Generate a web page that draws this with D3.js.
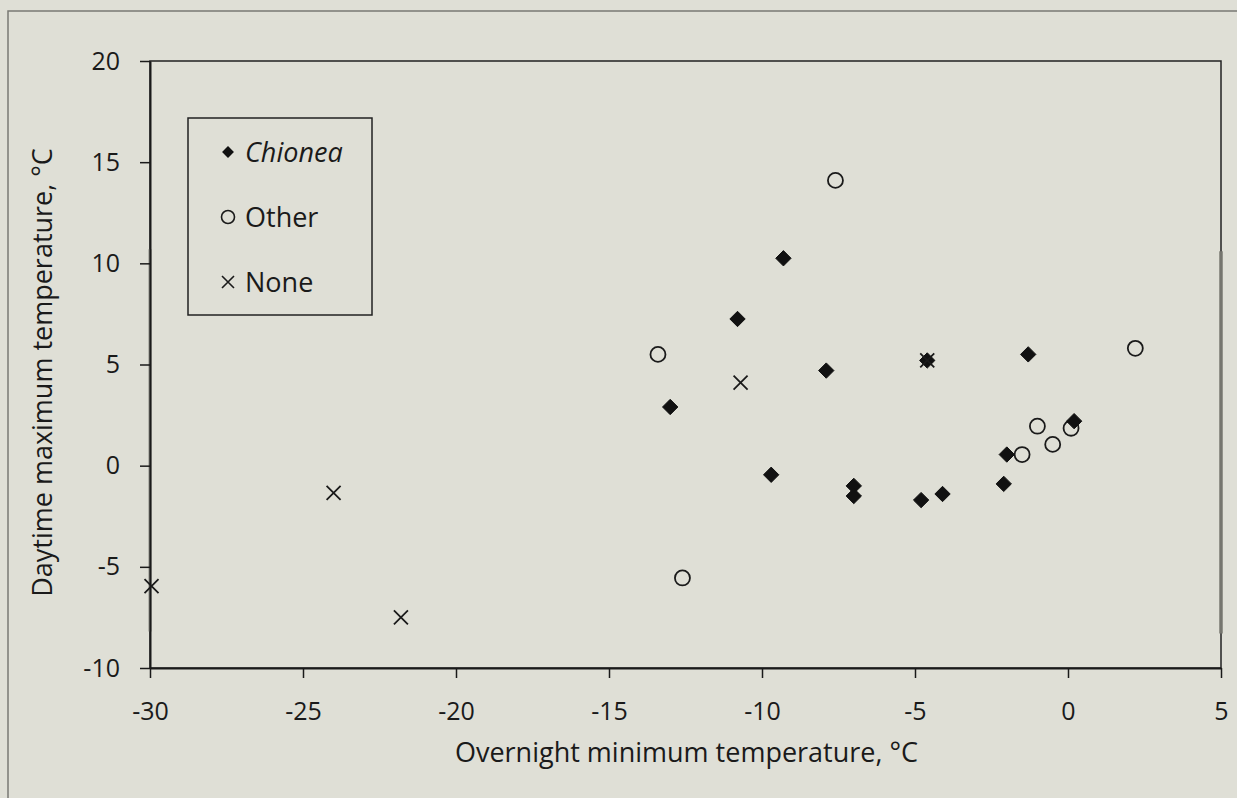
<!DOCTYPE html>
<html lang="en">
<head>
<meta charset="UTF-8" />
<title>Overnight minimum vs daytime maximum temperature</title>
<script src="https://d3js.org/d3.v7.min.js"></script>
<style>
  body { margin: 0; background: #dfdfd6; }
  svg { display: block; }
  text { font-family: "Open Sans", "Noto Sans", sans-serif; fill: #1a1a1a; }
</style>
</head>
<body>
<svg id="chart"></svg>
<script>
    // values
    var chioneaX = [-13.0, -10.8, -9.3, -7.9, -4.6, -1.3, 0.2, -2.0, -2.1, -4.1, -4.8, -9.7, -7.0, -7.0];
    var chioneaY = [2.9, 7.25, 10.25, 4.7, 5.2, 5.5, 2.2, 0.55, -0.9, -1.4, -1.7, -0.45, -1.0, -1.5];

    var otherX = [-13.4, -7.6, -12.6, 2.2, -1.0, 0.1, -0.5, -1.5];
    var otherY = [5.5, 14.1, -5.55, 5.8, 1.95, 1.85, 1.05, 0.55];

    var noneX = [-10.7, -4.6, -24.0, -21.8, -29.95];
    var noneY = [4.1, 5.2, -1.35, -7.5, -5.95];

    var xTicks = [-30, -25, -20, -15, -10, -5, 0, 5];
    var yTicks = [-10, -5, 0, 5, 10, 15, 20];

    var legendNames = ["Chionea", "Other", "None"];

    var width = 1237, height = 798;
    var margin = { top: 61, right: 16, bottom: 130, left: 150 };
    var w = width - margin.left - margin.right;
    var h = height - margin.top - margin.bottom;
    var tickFont = "25px";
    var labelFont = "27px";

    var svg = d3.select("#chart")
        .attr("width", width)
        .attr("height", height);

    // scanned page frame (left/top edges visible)
    svg.append("rect")
        .attr("x", 8).attr("y", 11)
        .attr("width", 1300).attr("height", 900)
        .attr("fill", "none")
        .attr("stroke", "#7a7a74")
        .attr("stroke-width", 1.5);

    var g = svg.append("g")
        .attr("transform", `translate(${margin.left},${margin.top})`);

    var x = d3.scaleLinear().domain([-30, 5]).range([0, w]);
    var y = d3.scaleLinear().domain([-10, 20]).range([h, 0]);

    // plot box
    g.append("rect")
        .attr("width", w).attr("height", h)
        .attr("fill", "none")
        .attr("stroke", "#222")
        .attr("stroke-width", 1.5);

    // scan smudges along the axes
    g.append("line")
        .attr("x1", w).attr("x2", w).attr("y1", y(10.6)).attr("y2", y(-8.3))
        .attr("stroke", "#808078").attr("stroke-width", 4).attr("opacity", 0.8);
    g.append("line")
        .attr("x1", 0).attr("x2", 0).attr("y1", y(10.7)).attr("y2", y(-8.2))
        .attr("stroke", "#9a9a92").attr("stroke-width", 4).attr("opacity", 0.6);

    var fmt = (d) => String(d);

    var xAxis = g.append("g")
        .attr("transform", `translate(0,${h})`)
        .call(d3.axisBottom(x).tickValues(xTicks).tickFormat(fmt)
            .tickSizeInner(10).tickSizeOuter(0).tickPadding(24));
    var yAxis = g.append("g")
        .call(d3.axisLeft(y).tickValues(yTicks).tickFormat(fmt)
            .tickSizeInner(10).tickSizeOuter(0).tickPadding(20));

    [xAxis, yAxis].forEach(function (a) {
        a.select(".domain").attr("stroke", "#1a1a1a").attr("stroke-width", 2);
        a.selectAll(".tick line").attr("stroke", "#1a1a1a").attr("stroke-width", 1.5);
        a.selectAll(".tick text")
            .style("font-family", "'Open Sans', 'Noto Sans', sans-serif")
            .style("font-size", tickFont)
            .attr("fill", "#1a1a1a");
    });

    // axis titles
    g.append("text")
        .attr("x", w / 2 + 1)
        .attr("y", h + 94)
        .attr("text-anchor", "middle")
        .style("font-size", labelFont)
        .text("Overnight minimum temperature, °C");

    g.append("text")
        .attr("transform", `translate(${-98},${h / 2 + 8}) rotate(-90)`)
        .attr("text-anchor", "middle")
        .style("font-size", labelFont)
        .text("Daytime maximum temperature, °C");

    var diamond = d3.symbol().type(d3.symbolDiamond2).size(150);

    function drawDiamond(sel) {
        sel.attr("d", diamond).attr("fill", "#111").attr("stroke", "#111").attr("stroke-width", 1);
    }
    function drawCircle(sel) {
        sel.attr("r", 7.5).attr("fill", "none").attr("stroke", "#1a1a1a").attr("stroke-width", 1.8);
    }
    function drawCross(sel) {
        sel.attr("d", "M-7,-7L7,7M-7,7L7,-7").attr("fill", "none").attr("stroke", "#1a1a1a").attr("stroke-width", 1.8);
    }

    var pts = g.append("g");

    pts.selectAll(".other")
        .data(d3.range(otherX.length))
        .enter().append("circle")
        .attr("class", "other")
        .attr("cx", (i) => x(otherX[i]))
        .attr("cy", (i) => y(otherY[i]))
        .call(drawCircle);

    pts.selectAll(".chionea")
        .data(d3.range(chioneaX.length))
        .enter().append("path")
        .attr("class", "chionea")
        .attr("transform", (i) => `translate(${x(chioneaX[i])},${y(chioneaY[i])})`)
        .call(drawDiamond);

    pts.selectAll(".none")
        .data(d3.range(noneX.length))
        .enter().append("path")
        .attr("class", "none")
        .attr("transform", (i) => `translate(${x(noneX[i])},${y(noneY[i])})`)
        .call(drawCross);

    // legend
    var leg = svg.append("g").attr("transform", "translate(188,118)");
    leg.append("rect")
        .attr("width", 184).attr("height", 197)
        .attr("fill", "#dfdfd6")
        .attr("stroke", "#222")
        .attr("stroke-width", 1.5);

    var rows = leg.selectAll(".row")
        .data(legendNames)
        .enter().append("g")
        .attr("class", "row")
        .attr("transform", (d, i) => `translate(40,${34 + i * 65})`);

    rows.filter((d, i) => i === 0).append("path")
        .attr("d", d3.symbol().type(d3.symbolDiamond2).size(90))
        .attr("fill", "#111");
    rows.filter((d, i) => i === 1).append("circle")
        .attr("r", 6.5).attr("fill", "none").attr("stroke", "#1a1a1a").attr("stroke-width", 1.6);
    rows.filter((d, i) => i === 2).append("path")
        .attr("d", "M-6,-6L6,6M-6,6L6,-6")
        .attr("fill", "none").attr("stroke", "#1a1a1a").attr("stroke-width", 1.6);

    rows.append("text")
        .attr("x", 17)
        .attr("dy", "0.36em")
        .style("font-size", labelFont)
        .style("font-style", (d, i) => i === 0 ? "italic" : "normal")
        .text((d) => d);
</script>
</body>
</html>
